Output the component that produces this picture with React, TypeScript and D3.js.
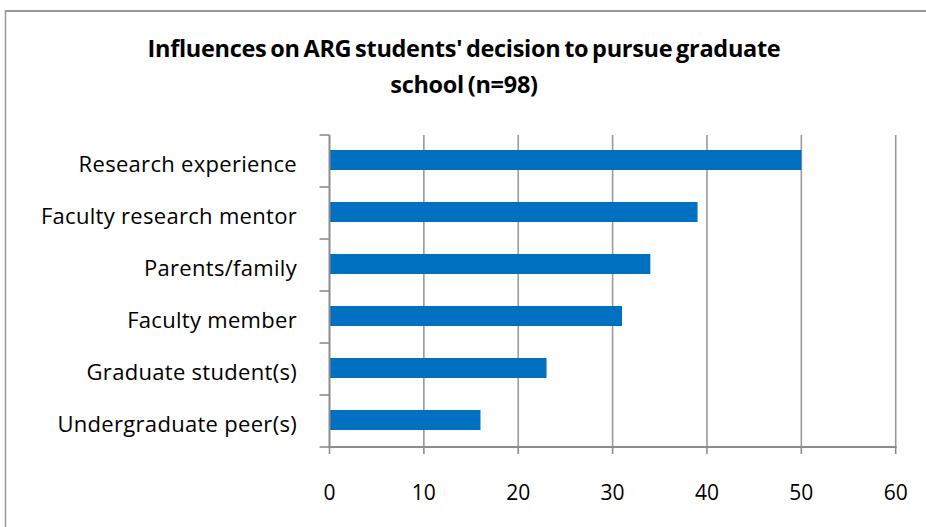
import React from 'react';
import * as d3 from 'd3';

const WIDTH = 926;
const HEIGHT = 527;
const PLOT = { left: 329.5, right: 895.7, top: 135, bottom: 447 };
const BAR_COLOR = "#0070C0";
const GRID_COLOR = "#9a9a9a";
const AXIS_COLOR = "#8c8c8c";

const CATEGORIES = [
    "Research experience",
    "Faculty research mentor",
    "Parents/family",
    "Faculty member",
    "Graduate student(s)",
    "Undergraduate peer(s)",
];
const VALUES = [50, 39, 34, 31, 23, 16];
const X_TICKS = [0, 10, 20, 30, 40, 50, 60];
const TITLE = ["Influences on ARG students' decision to pursue graduate", "school (n=98)"];

export default function App() {
    const x = d3.scaleLinear().domain([0, 60]).range([PLOT.left, PLOT.right]);
    const y = d3.scaleBand<string>().domain(CATEGORIES).range([PLOT.top, PLOT.bottom]);
    const barH = y.bandwidth() * 0.385;
    const font = "'Open Sans', sans-serif";

    // band boundaries for the category ticks
    const bandEdges = d3.range(CATEGORIES.length + 1).map(i => PLOT.top + i * y.step());

    return (
        <svg width={WIDTH} height={HEIGHT} style={{ position: "absolute", left: 0, top: 0, background: "#fff", overflow: "hidden" }}>
            {/* chart frame: only top and left edges are inside the picture */}
            <line x1={5} x2={WIDTH} y1={11} y2={11} stroke="#999" strokeWidth={1.8} />
            <line x1={5.5} x2={5.5} y1={10} y2={HEIGHT} stroke="#999" strokeWidth={1.5} />

            {TITLE.map((line, i) => (
                <text key={i} x={464} y={57 + i * 36} textAnchor="middle" fontFamily={font}
                    fontWeight="bold" fontSize={23.5} wordSpacing={-2} letterSpacing={-0.3} fill="#000">
                    {line}
                </text>
            ))}

            {X_TICKS.slice(1).map(t => (
                <line key={t} x1={x(t)} x2={x(t)} y1={PLOT.top} y2={PLOT.bottom}
                    stroke={GRID_COLOR} strokeWidth={1.6} />
            ))}

            {CATEGORIES.map((c, i) => (
                <rect key={c} x={x(0)} width={x(VALUES[i]) - x(0)}
                    y={(y(c) as number) + (y.bandwidth() - barH) / 2 - 1} height={barH} fill={BAR_COLOR} />
            ))}

            {/* y axis */}
            <line x1={PLOT.left} x2={PLOT.left} y1={PLOT.top} y2={PLOT.bottom} stroke={AXIS_COLOR} strokeWidth={2} />
            {bandEdges.map((e, i) => (
                <line key={i} x1={PLOT.left - 10} x2={PLOT.left} y1={e} y2={e} stroke={AXIS_COLOR} strokeWidth={1.6} />
            ))}
            {CATEGORIES.map(c => (
                <text key={c} x={297} y={(y(c) as number) + y.bandwidth() / 2 + 10.5} textAnchor="end"
                    fontFamily={font} fontSize={22} letterSpacing={0.3} fill="#000">
                    {c}
                </text>
            ))}

            {/* x axis */}
            <line x1={PLOT.left - 1} x2={PLOT.right + 1} y1={PLOT.bottom} y2={PLOT.bottom} stroke={AXIS_COLOR} strokeWidth={2} />
            {X_TICKS.map(t => (
                <g key={t}>
                    <line x1={x(t)} x2={x(t)} y1={PLOT.bottom} y2={PLOT.bottom + 7} stroke={AXIS_COLOR} strokeWidth={1.6} />
                    <text x={x(t)} y={500} textAnchor="middle" fontFamily={font} fontSize={21} fill="#000">{t}</text>
                </g>
            ))}
        </svg>
    );
}
